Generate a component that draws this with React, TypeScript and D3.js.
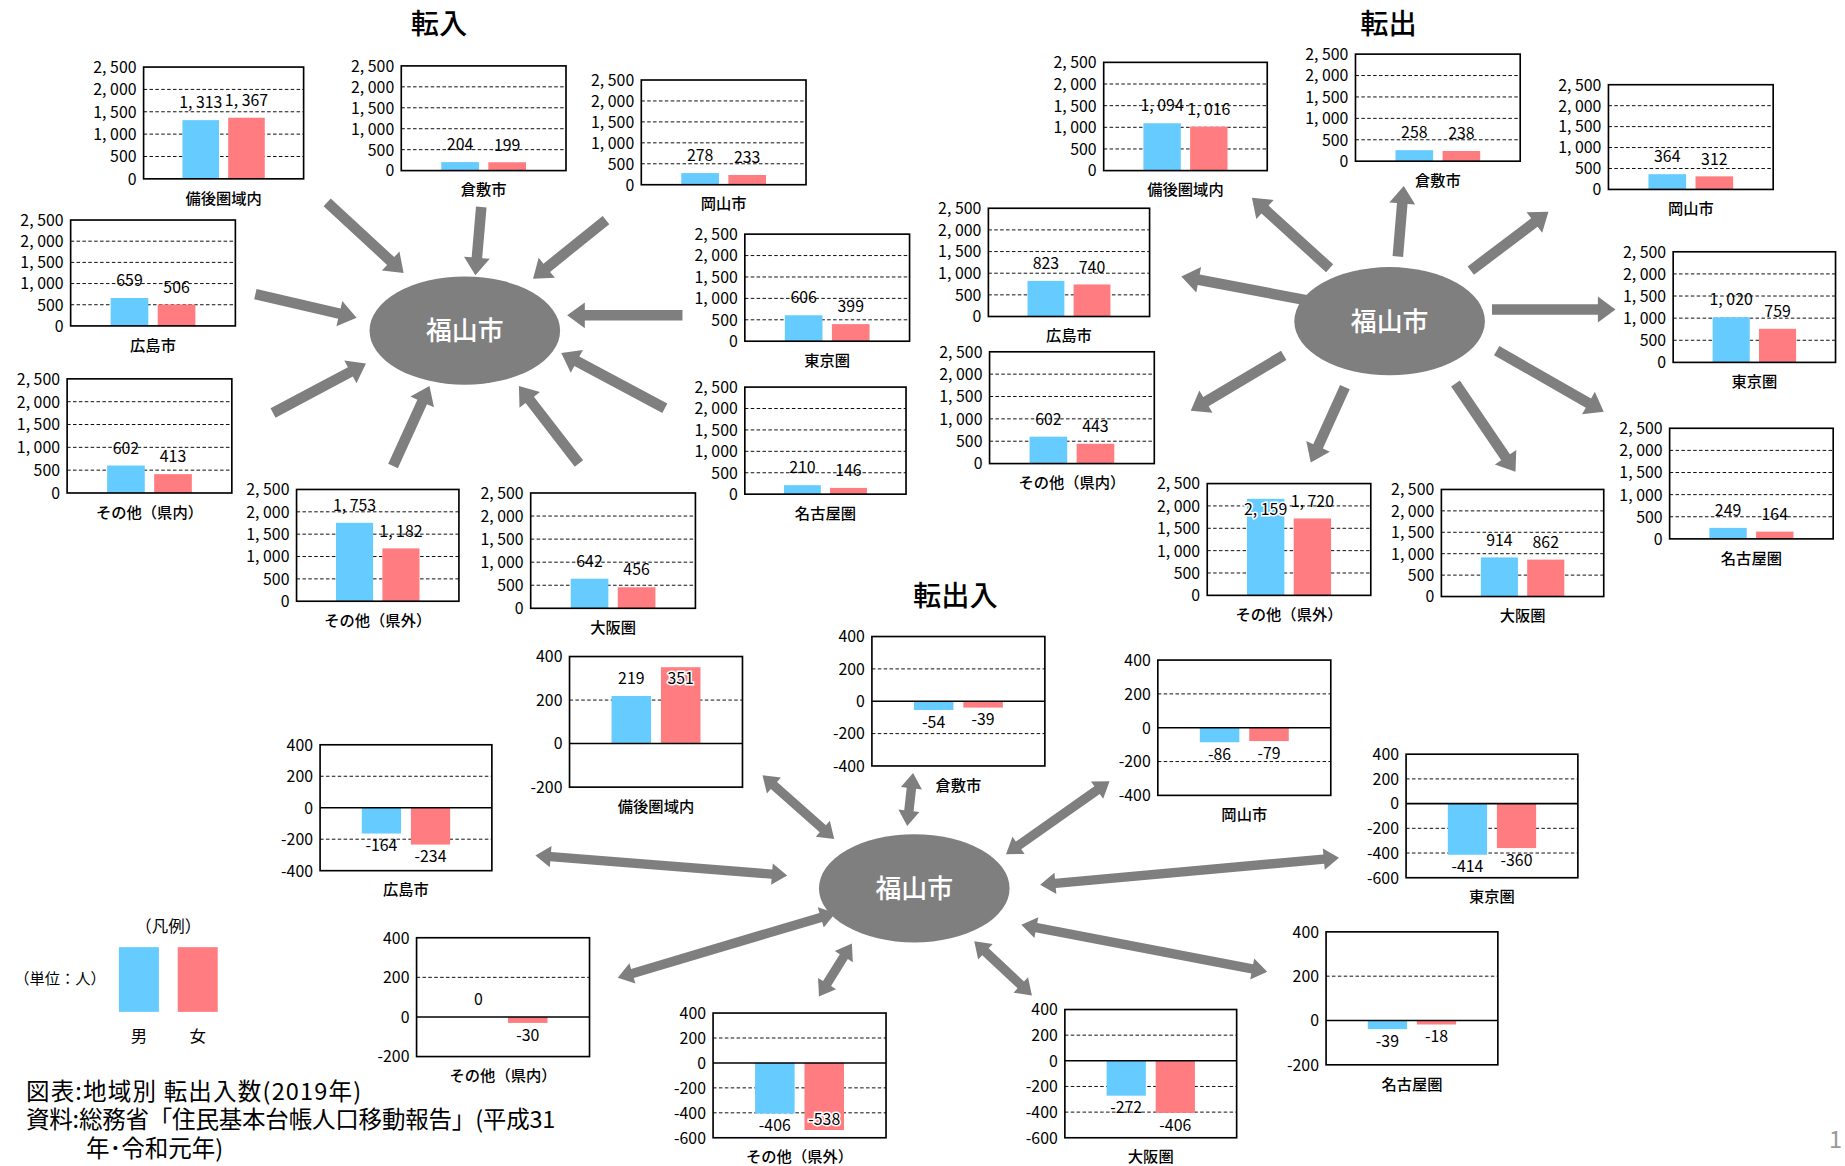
import React from 'react';
import * as d3 from 'd3';

// 地域（各チャートの並び順）
const regions = ['備後圏域内', '倉敷市', '岡山市', '広島市', '東京圏', '名古屋圏', 'その他（県内）', 'その他（県外）', '大阪圏'];
const sexes = ['男', '女'];

// 転入
const inMale = [1313, 204, 278, 659, 606, 210, 602, 1753, 642];
const inFemale = [1367, 199, 233, 506, 399, 146, 413, 1182, 456];
// 転出
const outMale = [1094, 258, 364, 823, 1020, 249, 602, 2159, 914];
const outFemale = [1016, 238, 312, 740, 759, 164, 443, 1720, 862];
// 転出入（差）
const netMale = [219, -54, -86, -164, -414, -39, 0, -406, -272];
const netFemale = [351, -39, -79, -234, -360, -18, -30, -538, -406];

// 軸
const flowTicks = [0, 500, 1000, 1500, 2000, 2500];
const netTicks = [-600, -400, -200, 0, 200, 400];
const netMin = [-200, -400, -400, -400, -600, -200, -200, -600, -600];

const BLUE = '#66CCFF';
const PINK = '#FF7C80';
const GRAY = '#7F7F7F';
const JP = "'Noto Sans CJK JP', 'Noto Sans', sans-serif";
const NUM = "'Liberation Sans Narrow', 'Noto Sans CJK JP', sans-serif";

// layout: [x, y, w, h] of each plot frame (viewBox units)
const inFrames = [
  [122, 57, 136, 95], [341, 56, 140, 89], [545, 68, 140, 89],
  [60, 187, 140, 90], [633, 199, 140, 91], [633, 329, 137, 91],
  [57, 322, 140, 97], [252, 416, 138, 95], [451, 419, 140, 98],
];
const outFrames = [
  [938, 53, 139, 92], [1152, 46, 140, 91], [1367, 72, 140, 89],
  [840, 177, 137, 92], [1422, 214, 138, 94], [1419, 364, 139, 94],
  [841, 299, 140, 95], [1026, 411, 139, 95], [1225, 416, 138, 91],
];
const netFrames = [
  [484, 558, 147, 111], [741, 541, 147, 110], [984, 561, 147, 115],
  [272, 633, 146, 107], [1195, 641, 146, 105], [1127, 792, 146, 113],
  [354, 797, 147, 101], [606, 861, 147, 106], [905, 858, 146, 109],
];

// arrows [x1, y1, x2, y2] (tail -> tip)
const inArrows = [
  [278, 172, 343, 232], [409, 176, 404, 234], [515, 187, 453, 237],
  [217, 250, 303, 270], [580, 268, 482, 268], [565, 347, 477, 300],
  [232, 351, 311, 309], [334, 396, 365, 328], [492, 394, 441, 328],
];
const outArrows = [
  [1130, 228, 1064, 168], [1188, 218, 1193, 158], [1250, 230, 1316, 180],
  [1120, 257, 1004, 235], [1268, 263, 1373, 263], [1272, 298, 1363, 350],
  [1091, 302, 1012, 349], [1143, 329, 1114, 393], [1237, 326, 1288, 401],
];
const netArrows = [
  [709, 713, 648, 659], [771, 702, 776, 657], [855, 726, 943, 664],
  [669, 744, 455, 727], [884, 752, 1138, 729], [868, 786, 1077, 826],
  [710, 776, 525, 831], [724, 802, 696, 847], [828, 800, 877, 846],
];

const fmt = (v: number) => d3.format(',')(v).replace('−', '-').replace(',', ', ');

function arrowPath(a: number[], sw: number, hw: number, hl: number, both: boolean) {
  const [x1, y1, x2, y2] = a;
  const len = Math.hypot(x2 - x1, y2 - y1);
  const ux = (x2 - x1) / len, uy = (y2 - y1) / len;
  const nx = -uy, ny = ux;
  const p = (d: number, o: number) => `${x1 + ux * d + nx * o},${y1 + uy * d + ny * o}`;
  const pts: string[] = [];
  if (both) {
    pts.push(p(0, 0), p(hl, hw / 2), p(hl, sw / 2));
  } else {
    pts.push(p(0, sw / 2));
  }
  pts.push(p(len - hl, sw / 2), p(len - hl, hw / 2), p(len, 0), p(len - hl, -hw / 2), p(len - hl, -sw / 2));
  if (both) {
    pts.push(p(hl, -sw / 2), p(hl, -hw / 2));
  } else {
    pts.push(p(0, -sw / 2));
  }
  return 'M' + pts.join('L') + 'Z';
}

function BarChart({ frame, label, values, domain, ticks }: any) {
  const [x, y, w, h] = frame;
  const ys = d3.scaleLinear().domain(domain).range([y + h, y]);
  const xs = d3.scaleBand().domain(sexes).range([x, x + w]).paddingInner(0.2).paddingOuter(0.85);
  const zero = ys(0);
  const tk = ticks.filter((t: number) => t >= domain[0] && t <= domain[1]);
  return (
    <g>
      <rect x={x} y={y} width={w} height={h} fill="#fff" />
      {tk.filter((t: number) => t > domain[0] && t < domain[1] && t !== 0).map((t: number) => (
        <line key={t} x1={x} x2={x + w} y1={ys(t)} y2={ys(t)} stroke="#000" strokeWidth={0.8} strokeDasharray="3 2" />
      ))}
      {values.map((v: number, i: number) => (
        <rect key={i} x={xs(sexes[i])} width={xs.bandwidth()} y={Math.min(ys(v), zero)}
          height={Math.abs(ys(v) - zero)} fill={i === 0 ? BLUE : PINK} />
      ))}
      {domain[0] < 0 && <line x1={x} x2={x + w} y1={zero} y2={zero} stroke="#000" strokeWidth={1.3} />}
      <rect x={x} y={y} width={w} height={h} fill="none" stroke="#000" strokeWidth={1.4} />
      {tk.map((t: number) => (
        <text key={t} x={x - 6} y={ys(t) + 5} textAnchor="end" fontSize={13.5} fontFamily={NUM}>{fmt(t)}</text>
      ))}
      {values.map((v: number, i: number) => {
        const cx = (xs(sexes[i]) as number) + xs.bandwidth() / 2;
        let by: number, inside = false;
        if (v >= 0) {
          by = ys(v) - 10;
          if (by - 11 < y) { by = ys(v) + 14; inside = true; }
        } else {
          by = ys(v) + 15;
          if (by + 2 > y + h) { by = ys(v) - 4; inside = true; }
        }
        return (
          <text key={i} x={cx} y={by} textAnchor="middle" fontSize={13.5} fontFamily={NUM}
            stroke={inside ? '#fff' : 'none'} strokeWidth={inside ? 2.5 : 0} paintOrder="stroke">{fmt(v)}</text>
        );
      })}
      <text x={x + w / 2} y={y + h + 21} textAnchor="middle" fontSize={13} fontFamily={JP} fontWeight={500}>{label}</text>
    </g>
  );
}

function Hub({ cx, cy }: { cx: number; cy: number }) {
  return (
    <g>
      <ellipse cx={cx} cy={cy} rx={81} ry={46} fill={GRAY} />
      <text x={cx} y={cy + 8} textAnchor="middle" fontSize={22} fill="#fff" fontFamily={JP} fontWeight={500}>福山市</text>
    </g>
  );
}

export default function App() {
  return (
    <svg width={1845} height={1166} viewBox="0 0 1568 991"
      style={{ position: 'absolute', left: 0, top: 0, background: '#fff' }}>
      <rect x={0} y={0} width={1568} height={991} fill="#fff" />

      <text x={373} y={29} textAnchor="middle" fontSize={24} fontFamily={JP} fontWeight={500}>転入</text>
      <text x={1180} y={29} textAnchor="middle" fontSize={24} fontFamily={JP} fontWeight={500}>転出</text>
      <text x={812} y={515} textAnchor="middle" fontSize={24} fontFamily={JP} fontWeight={500}>転出入</text>

      {inArrows.map((a, i) => <path key={'ia' + i} d={arrowPath(a, 9, 22, 15, false)} fill={GRAY} />)}
      {outArrows.map((a, i) => <path key={'oa' + i} d={arrowPath(a, 9, 22, 15, false)} fill={GRAY} />)}
      {netArrows.map((a, i) => <path key={'na' + i} d={arrowPath(a, 8, 18, 13, true)} fill={GRAY} />)}

      <Hub cx={395} cy={281} />
      <Hub cx={1181} cy={273} />
      <Hub cx={777} cy={755} />

      {regions.map((r, i) => (
        <BarChart key={'in' + i} frame={inFrames[i]} label={r} values={[inMale[i], inFemale[i]]}
          domain={[0, 2500]} ticks={flowTicks} />
      ))}
      {regions.map((r, i) => (
        <BarChart key={'out' + i} frame={outFrames[i]} label={r} values={[outMale[i], outFemale[i]]}
          domain={[0, 2500]} ticks={flowTicks} />
      ))}
      {regions.map((r, i) => (
        <BarChart key={'net' + i} frame={netFrames[i]} label={r} values={[netMale[i], netFemale[i]]}
          domain={[netMin[i], 400]} ticks={netTicks} />
      ))}

      {/* 凡例 */}
      <text x={143} y={792} textAnchor="middle" fontSize={14} fontFamily={JP}>（凡例）</text>
      <rect x={101} y={805} width={34} height={55} fill={BLUE} />
      <rect x={151} y={805} width={34} height={55} fill={PINK} />
      <text x={12} y={836} fontSize={13} fontFamily={JP}>（単位：人）</text>
      <text x={118} y={886} textAnchor="middle" fontSize={14} fontFamily={JP}>男</text>
      <text x={168} y={886} textAnchor="middle" fontSize={14} fontFamily={JP}>女</text>

      <text fontSize={20} fontFamily={JP}>
        <tspan x={22} y={935} textLength={285} lengthAdjust="spacing">図表:地域別 転出入数(2019年)</tspan>
        <tspan x={22} y={959} textLength={450} lengthAdjust="spacing">資料:総務省「住民基本台帳人口移動報告」(平成31</tspan>
        <tspan x={73} y={983}>年･令和元年)</tspan>
      </text>

      <text x={1560} y={976} textAnchor="middle" fontSize={20} fill="#999" fontFamily={JP}>1</text>
    </svg>
  );
}
